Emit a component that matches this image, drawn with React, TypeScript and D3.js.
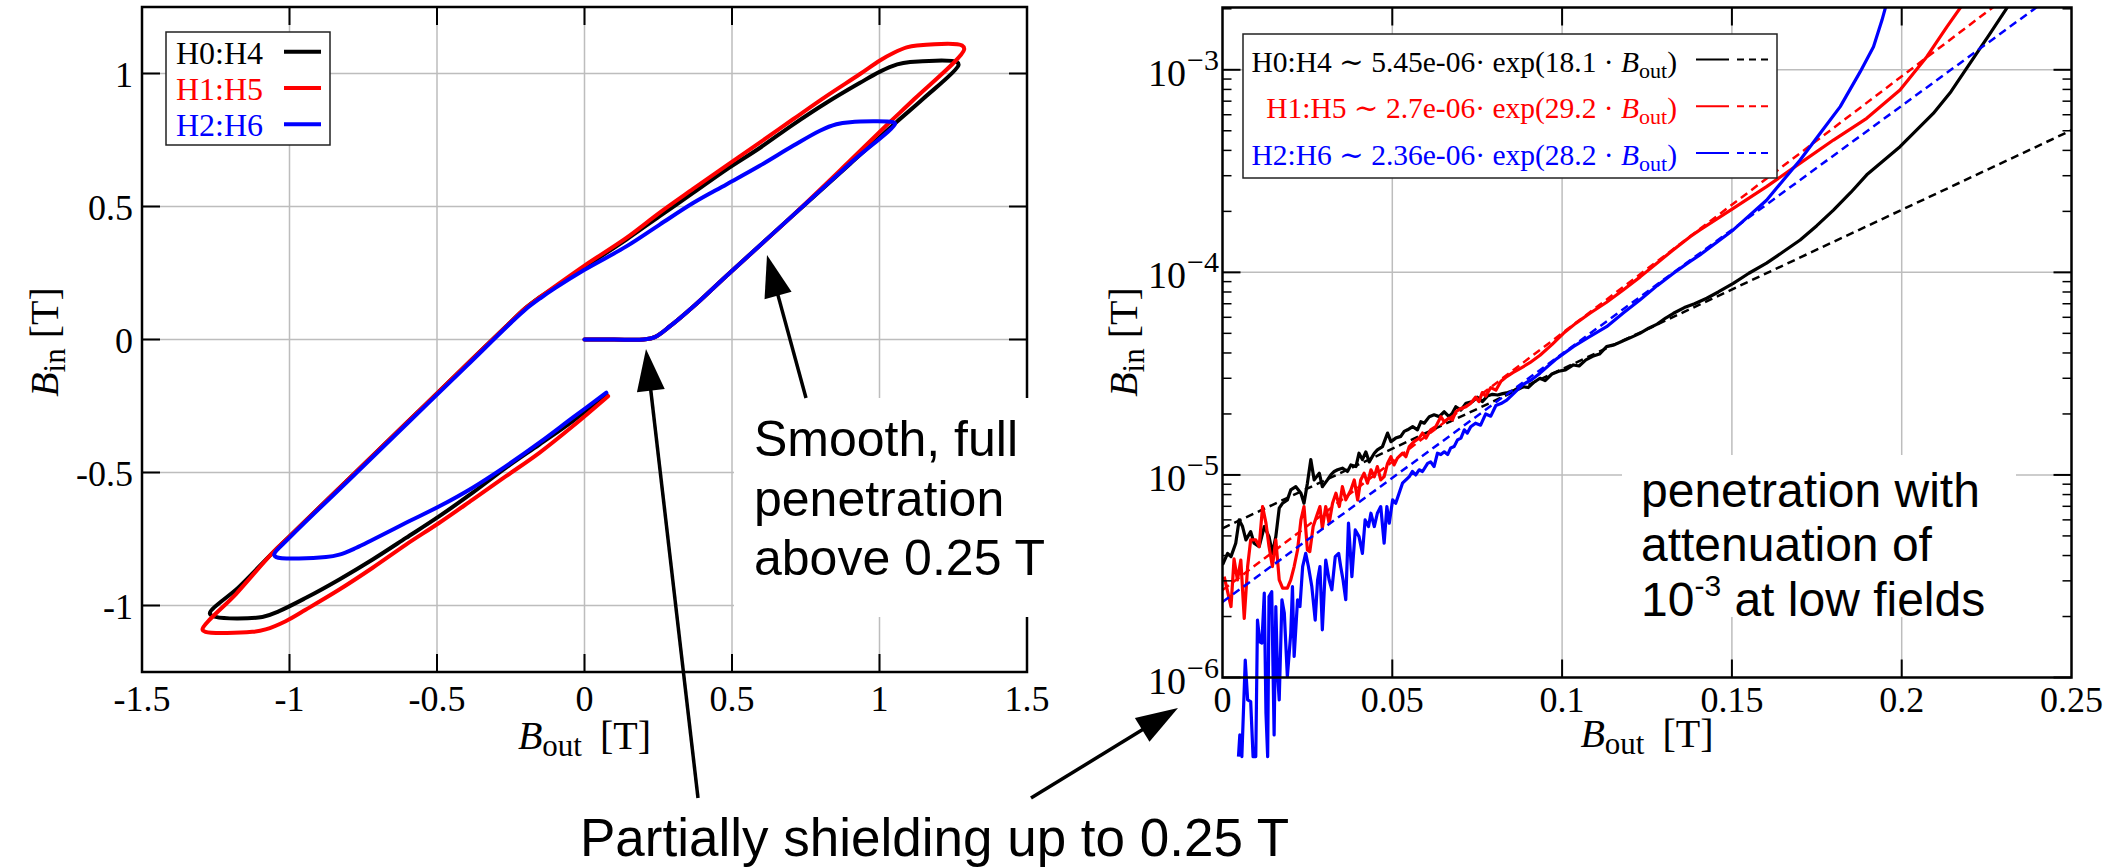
import React from 'react';
import * as d3 from 'd3';

type P = [number, number];

// ---------- series meta ----------
const seriesNames = ['H0:H4', 'H1:H5', 'H2:H6'];
const seriesColors = ['#000000', '#ff0000', '#0000ff'];

// ---------- left panel: hysteresis loops (B_out, B_in) in T ----------
const loopH0H4: P[] = [
  [0, 0], [0.1, 0], [0.2, 0], [0.24, 0.01], [0.29, 0.05], [0.37, 0.125], [0.48, 0.238], [0.7, 0.46],
  [0.9, 0.66], [1.058, 0.818], [1.148, 0.905], [1.268, 1.032],
  [1.262, 1.043], [1.104, 1.043], [1.06, 1.034], [1.0, 1.006], [0.934, 0.965], [0.82, 0.89], [0.707, 0.808],
  [0.594, 0.72], [0.481, 0.639], [0.368, 0.551], [0.255, 0.464], [0.142, 0.376], [0, 0.272], [-0.1, 0.197],
  [-0.15, 0.16], [-0.2, 0.118], [-0.25, 0.066], [-0.4, -0.095], [-0.6, -0.31], [-0.8, -0.525], [-1.0, -0.74],
  [-1.06, -0.805], [-1.171, -0.93], [-1.27, -1.03],
  [-1.25, -1.043], [-1.092, -1.043], [-1.035, -1.021], [-0.944, -0.971], [-0.831, -0.902], [-0.718, -0.827],
  [-0.605, -0.746], [-0.492, -0.664], [-0.379, -0.576], [-0.266, -0.482], [-0.153, -0.395], [-0.04, -0.307],
  [0.075, -0.207],
];
const loopH1H5: P[] = [
  [0, 0], [0.1, 0], [0.2, 0], [0.24, 0.01], [0.29, 0.05], [0.37, 0.125], [0.48, 0.238], [0.7, 0.46],
  [0.9, 0.672], [1.03, 0.812], [1.118, 0.904], [1.287, 1.09],
  [1.28, 1.105], [1.127, 1.105], [1.092, 1.098], [1.047, 1.077], [1.0, 1.048], [0.934, 0.998], [0.82, 0.915],
  [0.707, 0.828], [0.594, 0.74], [0.481, 0.654], [0.368, 0.566], [0.255, 0.477], [0.142, 0.382], [0, 0.278],
  [-0.1, 0.2], [-0.15, 0.16], [-0.2, 0.118], [-0.25, 0.066], [-0.4, -0.095], [-0.6, -0.31], [-0.8, -0.525],
  [-1.0, -0.74], [-1.06, -0.805], [-1.18, -0.955], [-1.295, -1.09],
  [-1.285, -1.099], [-1.126, -1.099], [-1.081, -1.09], [-1.013, -1.059], [-0.944, -1.015], [-0.831, -0.94],
  [-0.718, -0.858], [-0.605, -0.771], [-0.492, -0.689], [-0.379, -0.602], [-0.266, -0.514], [-0.153, -0.426],
  [-0.04, -0.326], [0.08, -0.213],
];
const loopH2H6: P[] = [
  [0, 0], [0.1, 0], [0.2, 0], [0.24, 0.01], [0.29, 0.05], [0.37, 0.125], [0.48, 0.238], [0.7, 0.46],
  [0.9, 0.662], [1.053, 0.812],
  [1.045, 0.817], [0.9, 0.817], [0.854, 0.809], [0.798, 0.785], [0.707, 0.728], [0.594, 0.653], [0.481, 0.583],
  [0.368, 0.513], [0.255, 0.432], [0.142, 0.35], [0, 0.262], [-0.1, 0.193], [-0.15, 0.155], [-0.2, 0.113],
  [-0.25, 0.062], [-0.4, -0.1], [-0.6, -0.315], [-0.8, -0.53], [-1.0, -0.745], [-1.052, -0.808],
  [-1.045, -0.818], [-0.876, -0.818], [-0.831, -0.809], [-0.775, -0.784], [-0.718, -0.753], [-0.605, -0.689],
  [-0.492, -0.627], [-0.379, -0.557], [-0.266, -0.476], [-0.153, -0.388], [-0.04, -0.294], [0.074, -0.2],
];

// ---------- right panel: low-field penetration (B_out, B_in) ----------
const lowH0H4: P[] = [
  [0, 3.6e-6], [0.0015, 4.1e-6], [0.0025, 3.95e-6], [0.0039, 4.6e-6], [0.0049, 6.0e-6], [0.0059, 5.56e-6],
  [0.0069, 4.78e-6], [0.0083, 5.25e-6], [0.0093, 4.6e-6], [0.0108, 4.43e-6], [0.0123, 5.56e-6], [0.0137, 4.96e-6],
  [0.0147, 4.1e-6], [0.0157, 4.96e-6], [0.0167, 6.85e-6], [0.0177, 7.25e-6], [0.0191, 7.53e-6], [0.0201, 8.43e-6],
  [0.0216, 8.75e-6], [0.0231, 8.12e-6], [0.024, 7.25e-6], [0.025, 9.1e-6], [0.026, 1.19e-5], [0.027, 9.45e-6],
  [0.0285, 1.02e-5], [0.0294, 8.75e-6], [0.0309, 9.45e-6], [0.0319, 1.0e-5], [0.0329, 1.04e-5], [0.0339, 1.06e-5],
  [0.0353, 1.08e-5], [0.0368, 1.04e-5], [0.0378, 1.12e-5], [0.0393, 1.1e-5], [0.0402, 1.28e-5], [0.0412, 1.19e-5],
  [0.0422, 1.3e-5], [0.0432, 1.16e-5], [0.0447, 1.28e-5], [0.0456, 1.33e-5], [0.0471, 1.38e-5], [0.0486, 1.61e-5],
  [0.0496, 1.46e-5], [0.051, 1.52e-5], [0.0525, 1.55e-5], [0.0535, 1.64e-5], [0.0545, 1.67e-5], [0.056, 1.73e-5],
  [0.0574, 1.67e-5], [0.0584, 1.83e-5], [0.0594, 1.8e-5], [0.0609, 1.94e-5], [0.0623, 1.98e-5], [0.0638, 1.94e-5],
  [0.0653, 2.05e-5], [0.0667, 1.94e-5], [0.0677, 2.02e-5], [0.0687, 2.17e-5], [0.0702, 2.09e-5], [0.0717, 2.26e-5],
  [0.0736, 2.3e-5], [0.075, 2.42e-5], [0.0765, 2.3e-5], [0.078, 2.45e-5], [0.0795, 2.5e-5], [0.081, 2.48e-5],
  [0.0825, 2.52e-5], [0.084, 2.55e-5], [0.086, 2.62e-5], [0.088, 2.74e-5], [0.09, 2.7e-5], [0.0915, 2.85e-5],
  [0.0935, 3.0e-5], [0.095, 2.92e-5], [0.097, 3.15e-5], [0.099, 3.25e-5], [0.101, 3.3e-5], [0.1033, 3.49e-5],
  [0.105, 3.45e-5], [0.107, 3.7e-5], [0.109, 3.85e-5], [0.111, 3.95e-5], [0.1131, 4.3e-5], [0.1155, 4.4e-5],
  [0.118, 4.6e-5], [0.12, 4.75e-5], [0.1229, 5.0e-5], [0.1255, 5.3e-5], [0.128, 5.55e-5], [0.1305, 5.95e-5],
  [0.1328, 6.28e-5], [0.136, 6.7e-5], [0.139, 7.0e-5], [0.1426, 7.45e-5], [0.146, 8.0e-5], [0.1504, 8.83e-5],
  [0.155, 9.9e-5], [0.1602, 1.11e-4], [0.165, 1.26e-4], [0.1701, 1.445e-4], [0.175, 1.7e-4], [0.1799, 2.03e-4],
  [0.185, 2.48e-4], [0.1897, 3.03e-4], [0.1995, 4.17e-4], [0.2093, 6.09e-4], [0.2145, 7.8e-4], [0.2191, 1.016e-3],
  [0.226, 1.51e-3], [0.2319, 2.13e-3],
];
const lowH1H5: P[] = [
  [0.0005, 3.15e-6], [0.0025, 2.24e-6], [0.0034, 3.85e-6], [0.0044, 3.03e-6], [0.0054, 3.8e-6], [0.0064, 1.96e-6],
  [0.0074, 3.53e-6], [0.0083, 4.78e-6], [0.0098, 4.78e-6], [0.0108, 4.43e-6], [0.0118, 6.98e-6], [0.0128, 5.78e-6],
  [0.0137, 4.43e-6], [0.0147, 3.53e-6], [0.0157, 4.78e-6], [0.0167, 3.03e-6], [0.0177, 2.76e-6], [0.0191, 2.76e-6],
  [0.0201, 3.03e-6], [0.0211, 3.53e-6], [0.0221, 4.26e-6], [0.0231, 6.0e-6], [0.024, 6.98e-6], [0.025, 4.26e-6],
  [0.0257, 4.18e-6], [0.0267, 5.56e-6], [0.028, 6.47e-6], [0.0287, 6.98e-6], [0.0294, 5.45e-6], [0.0304, 6.98e-6],
  [0.0314, 5.78e-6], [0.0324, 7.25e-6], [0.0334, 8.12e-6], [0.0344, 6.98e-6], [0.0353, 8.75e-6], [0.0363, 7.53e-6],
  [0.0378, 8.43e-6], [0.0388, 9.45e-6], [0.0398, 7.53e-6], [0.0407, 9.45e-6], [0.0417, 1.02e-5], [0.0427, 9.1e-6],
  [0.0437, 1.06e-5], [0.0447, 9.8e-6], [0.0456, 1.1e-5], [0.0466, 9.45e-6], [0.0476, 9.8e-6], [0.0486, 1.14e-5],
  [0.0496, 1.23e-5], [0.0505, 1.12e-5], [0.0515, 1.21e-5], [0.053, 1.28e-5], [0.054, 1.23e-5], [0.055, 1.38e-5],
  [0.0564, 1.46e-5], [0.0579, 1.52e-5], [0.0589, 1.61e-5], [0.0599, 1.52e-5], [0.0613, 1.67e-5], [0.0628, 1.73e-5],
  [0.0643, 1.94e-5], [0.0653, 1.83e-5], [0.0667, 1.91e-5], [0.0677, 1.87e-5], [0.0687, 2.05e-5], [0.0702, 2.13e-5],
  [0.0717, 2.17e-5], [0.0731, 2.26e-5], [0.0745, 2.42e-5], [0.0755, 2.3e-5], [0.0765, 2.55e-5], [0.0775, 2.45e-5],
  [0.079, 2.7e-5], [0.0805, 2.62e-5], [0.082, 2.9e-5], [0.0837, 3.06e-5], [0.0855, 3.2e-5], [0.088, 3.38e-5],
  [0.0905, 3.58e-5], [0.0935, 3.9e-5], [0.097, 4.4e-5], [0.1004, 5.0e-5], [0.104, 5.6e-5], [0.1082, 6.28e-5],
  [0.113, 7.1e-5], [0.118, 8.19e-5], [0.123, 9.5e-5], [0.1279, 1.11e-4], [0.1327, 1.29e-4], [0.1377, 1.5e-4],
  [0.1406, 1.62e-4], [0.1504, 2.07e-4], [0.1602, 2.65e-4], [0.1701, 3.46e-4], [0.1799, 4.5e-4], [0.1897, 5.76e-4],
  [0.1995, 7.95e-4], [0.2074, 1.16e-3], [0.2133, 1.63e-3], [0.2182, 2.13e-3],
];
const lowH2H6: P[] = [
  [0.0047, 4.07e-7], [0.0051, 5.21e-7], [0.0057, 4.07e-7], [0.0067, 1.22e-6], [0.0074, 7.75e-7], [0.0083, 7.6e-7],
  [0.009, 4.07e-7], [0.0098, 4.07e-7], [0.0103, 1.92e-6], [0.011, 1.5e-6], [0.0116, 1.48e-6], [0.0123, 2.61e-6],
  [0.0128, 6.67e-7], [0.0133, 4.07e-7], [0.0137, 2.51e-6], [0.0145, 2.65e-6], [0.0152, 5.21e-7], [0.0157, 2.24e-6],
  [0.0162, 1.05e-6], [0.0167, 7.75e-7], [0.0175, 2.42e-6], [0.0182, 2.08e-6], [0.0191, 1.01e-6], [0.0201, 1.65e-6],
  [0.0206, 2.81e-6], [0.0211, 1.27e-6], [0.0221, 2.42e-6], [0.0228, 2.24e-6], [0.0236, 3.53e-6], [0.0245, 4.1e-6],
  [0.0253, 3.53e-6], [0.0263, 2.81e-6], [0.0273, 1.92e-6], [0.028, 3.03e-6], [0.0287, 3.53e-6], [0.0294, 1.72e-6],
  [0.0304, 3.8e-6], [0.0314, 3.03e-6], [0.0322, 2.71e-6], [0.0332, 3.95e-6], [0.0342, 4.1e-6], [0.0348, 3.53e-6],
  [0.0355, 3.03e-6], [0.0363, 2.42e-6], [0.0371, 5.78e-6], [0.0381, 3.15e-6], [0.0391, 5.35e-6], [0.0402, 4.96e-6],
  [0.0412, 4.1e-6], [0.042, 6.0e-6], [0.043, 5.56e-6], [0.0437, 6.47e-6], [0.0447, 5.56e-6], [0.0456, 6.47e-6],
  [0.0466, 6.98e-6], [0.0476, 4.6e-6], [0.0484, 6.98e-6], [0.0491, 5.78e-6], [0.0501, 7.53e-6], [0.051, 7.25e-6],
  [0.052, 8.12e-6], [0.053, 9.1e-6], [0.054, 9.45e-6], [0.055, 9.8e-6], [0.0559, 1.04e-5], [0.0569, 1.0e-5],
  [0.0579, 1.06e-5], [0.0589, 1.04e-5], [0.0604, 1.14e-5], [0.0613, 1.16e-5], [0.0623, 1.1e-5], [0.0633, 1.28e-5],
  [0.0643, 1.26e-5], [0.0653, 1.3e-5], [0.0663, 1.26e-5], [0.0672, 1.36e-5], [0.0682, 1.38e-5], [0.0692, 1.49e-5],
  [0.0702, 1.52e-5], [0.0712, 1.67e-5], [0.0721, 1.61e-5], [0.0731, 1.73e-5], [0.0745, 1.8e-5], [0.076, 1.76e-5],
  [0.0775, 2.0e-5], [0.079, 1.95e-5], [0.0805, 2.2e-5], [0.082, 2.25e-5], [0.0837, 2.34e-5], [0.086, 2.55e-5],
  [0.0885, 2.8e-5], [0.091, 2.95e-5], [0.0935, 3.18e-5], [0.098, 3.7e-5], [0.1033, 4.3e-5], [0.108, 4.8e-5],
  [0.1131, 5.39e-5], [0.118, 6.3e-5], [0.1229, 7.31e-5], [0.128, 8.6e-5], [0.1328, 9.9e-5], [0.1376, 1.13e-4],
  [0.1406, 1.22e-4], [0.1504, 1.62e-4], [0.1602, 2.27e-4], [0.1701, 3.59e-4], [0.176, 4.86e-4], [0.1819, 6.58e-4],
  [0.1878, 9.79e-4], [0.1917, 1.3e-3], [0.1942, 1.76e-3], [0.1957, 2.17e-3],
];

// exponential fits B_in = A * exp(k * B_out)
const fitAmp = [5.45e-6, 2.7e-6, 2.36e-6];
const fitRate = [18.1, 29.2, 28.2];
const fitAmpLabel = ['5.45e-06', '2.7e-06', '2.36e-06'];
const fitRateLabel = ['18.1', '29.2', '28.2'];

// ---------- ticks ----------
const leftXTicks = [-1.5, -1, -0.5, 0, 0.5, 1, 1.5];
const leftXTickLabels = ['-1.5', '-1', '-0.5', '0', '0.5', '1', '1.5'];
const leftYTicks = [-1, -0.5, 0, 0.5, 1];
const leftYTickLabels = ['-1', '-0.5', '0', '0.5', '1'];
const rightXTicks = [0, 0.05, 0.1, 0.15, 0.2, 0.25];
const rightXTickLabels = ['0', '0.05', '0.1', '0.15', '0.2', '0.25'];
const rightYDecades = [-6, -5, -4, -3];

const SERIF = '"Liberation Serif", "DejaVu Serif", serif';
const SANS = '"Liberation Sans", Arial, sans-serif';
const GRID = '#bdbdbd';

function Arrow({ x1, y1, x2, y2 }: { x1: number; y1: number; x2: number; y2: number }) {
  const L = 42, hw = 14;
  const dx = x2 - x1, dy = y2 - y1;
  const len = Math.hypot(dx, dy);
  const ux = dx / len, uy = dy / len;
  const bx = x2 - ux * L, by = y2 - uy * L;
  const pts = [
    [x2, y2],
    [bx - uy * hw, by + ux * hw],
    [bx + uy * hw, by - ux * hw],
  ].map(p => p.join(',')).join(' ');
  return (
    <g>
      <line x1={x1} y1={y1} x2={bx + ux * 4} y2={by + uy * 4} stroke="#000" strokeWidth={3.5} />
      <polygon points={pts} fill="#000" />
    </g>
  );
}

export default function App() {
  const xL = d3.scaleLinear().domain([-1.5, 1.5]).range([142, 1027]);
  const yL = d3.scaleLinear().domain([-1.25, 1.25]).range([672, 7]);
  const xR = d3.scaleLinear().domain([0, 0.25]).range([1222.5, 2071.5]);
  const yR = d3.scaleLog().domain([1e-6, 2.03e-3]).range([677.5, 7.5]);

  const lineL = d3.line<P>().x(d => xL(d[0])).y(d => yL(d[1])).curve(d3.curveCatmullRom.alpha(0.5));
  const lineR = d3.line<P>().x(d => xR(d[0])).y(d => yR(d[1]));

  const loops = [loopH0H4, loopH1H5, loopH2H6];
  const lows = [lowH0H4, lowH1H5, lowH2H6];

  const [lx0, lx1] = xL.range();
  const [ly0, ly1] = [yL.range()[1], yL.range()[0]];
  const [rx0, rx1] = xR.range();
  const [ry0, ry1] = [yR.range()[1], yR.range()[0]];

  const minorR: number[] = [];
  rightYDecades.forEach(k => {
    for (let m = 2; m <= 9; m++) {
      const v = m * Math.pow(10, k);
      if (v < yR.domain()[1]) minorR.push(v);
    }
  });

  const fitLines = fitAmp.map((a, i) => {
    const pts: P[] = [0, 0.25].map(x => [x, a * Math.exp(fitRate[i] * x)] as P);
    return lineR(pts) || '';
  });

  const tickLen = 18;
  const minorLen = 9;

  return (
    <svg width={2111} height={867} style={{ position: 'absolute', left: 0, top: 0, display: 'block' }}
      xmlns="http://www.w3.org/2000/svg">
      <defs>
        <clipPath id="clipL"><rect x={lx0} y={ly0} width={lx1 - lx0} height={ly1 - ly0} /></clipPath>
        <clipPath id="clipR"><rect x={rx0} y={ry0} width={rx1 - rx0} height={760 - ry0} /></clipPath>
      </defs>
      <rect x={0} y={0} width={2111} height={867} fill="#fff" />

      {/* ================= LEFT PANEL ================= */}
      <g>
        {leftXTicks.filter(t => t > -1.5 && t < 1.5).map(t => (
          <line key={'gx' + t} x1={xL(t)} x2={xL(t)} y1={ly0} y2={ly1} stroke={GRID} strokeWidth={1.5} />
        ))}
        {leftYTicks.map(t => (
          <line key={'gy' + t} x1={lx0} x2={lx1} y1={yL(t)} y2={yL(t)} stroke={GRID} strokeWidth={1.5} />
        ))}
        <g clipPath="url(#clipL)">
          {loops.map((d, i) => (
            <path key={'loop' + i} d={lineL(d) || ''} fill="none" stroke={seriesColors[i]} strokeWidth={4}
              strokeLinejoin="round" strokeLinecap="round" />
          ))}
        </g>
        {leftXTicks.filter(t => t > -1.5 && t < 1.5).map(t => (
          <g key={'tx' + t}>
            <line x1={xL(t)} x2={xL(t)} y1={ly1} y2={ly1 - tickLen} stroke="#000" strokeWidth={2} />
            <line x1={xL(t)} x2={xL(t)} y1={ly0} y2={ly0 + tickLen} stroke="#000" strokeWidth={2} />
          </g>
        ))}
        {leftYTicks.map(t => (
          <g key={'ty' + t}>
            <line x1={lx0} x2={lx0 + tickLen} y1={yL(t)} y2={yL(t)} stroke="#000" strokeWidth={2} />
            <line x1={lx1} x2={lx1 - tickLen} y1={yL(t)} y2={yL(t)} stroke="#000" strokeWidth={2} />
          </g>
        ))}
        <rect x={lx0} y={ly0} width={lx1 - lx0} height={ly1 - ly0} fill="none" stroke="#000" strokeWidth={2.5} />
        {leftXTicks.map((t, i) => (
          <text key={'lx' + t} x={xL(t)} y={711} textAnchor="middle" fontFamily={SERIF} fontSize={36}>{leftXTickLabels[i]}</text>
        ))}
        {leftYTicks.map((t, i) => (
          <text key={'ly' + t} x={133} y={yL(t) + 13} textAnchor="end" fontFamily={SERIF} fontSize={36}>{leftYTickLabels[i]}</text>
        ))}
        <text x={xL(0)} y={749} textAnchor="middle" fontFamily={SERIF} fontSize={40}>
          <tspan fontStyle="italic">B</tspan><tspan fontSize={31} dy={7}>out</tspan><tspan dy={-7} dx={18}>[T]</tspan>
        </text>
        <text transform={`translate(58,342) rotate(-90)`} textAnchor="middle" fontFamily={SERIF} fontSize={40}>
          <tspan fontStyle="italic">B</tspan><tspan fontSize={31} dy={7}>in</tspan><tspan dy={-7} dx={10}>[T]</tspan>
        </text>
        <rect x={166} y={32} width={164} height={113} fill="#fff" stroke="#222" strokeWidth={1.5} />
        {seriesNames.map((n, i) => (
          <g key={'lg' + i}>
            <text x={176} y={63.5 + i * 36.3} fontFamily={SERIF} fontSize={32} fill={seriesColors[i]}>{n}</text>
            <line x1={284} x2={321} y1={51.7 + i * 36.3} y2={51.7 + i * 36.3} stroke={seriesColors[i]} strokeWidth={4} />
          </g>
        ))}
      </g>

      {/* ================= RIGHT PANEL ================= */}
      <g>
        {rightXTicks.filter(t => t > 0 && t < 0.25).map(t => (
          <line key={'rgx' + t} x1={xR(t)} x2={xR(t)} y1={ry0} y2={ry1} stroke={GRID} strokeWidth={1.5} />
        ))}
        {rightYDecades.filter(k => k > -6).map(k => (
          <line key={'rgy' + k} x1={rx0} x2={rx1} y1={yR(Math.pow(10, k))} y2={yR(Math.pow(10, k))} stroke={GRID} strokeWidth={1.5} />
        ))}
        <g clipPath="url(#clipR)">
          {lows.map((d, i) => (
            <g key={'low' + i}>
              <path d={lineR(d) || ''} fill="none" stroke={seriesColors[i]} strokeWidth={3.2} strokeLinejoin="round" />
              <path d={fitLines[i]} fill="none" stroke={seriesColors[i]} strokeWidth={2.5} strokeDasharray="8,5" />
            </g>
          ))}
        </g>
        {rightXTicks.filter(t => t > 0 && t < 0.25).map(t => (
          <g key={'rtx' + t}>
            <line x1={xR(t)} x2={xR(t)} y1={ry1} y2={ry1 - tickLen} stroke="#000" strokeWidth={2} />
            <line x1={xR(t)} x2={xR(t)} y1={ry0} y2={ry0 + tickLen} stroke="#000" strokeWidth={2} />
          </g>
        ))}
        {rightYDecades.map(k => (
          <g key={'rty' + k}>
            <line x1={rx0} x2={rx0 + tickLen} y1={yR(Math.pow(10, k))} y2={yR(Math.pow(10, k))} stroke="#000" strokeWidth={2} />
            <line x1={rx1} x2={rx1 - tickLen} y1={yR(Math.pow(10, k))} y2={yR(Math.pow(10, k))} stroke="#000" strokeWidth={2} />
          </g>
        ))}
        {minorR.map(v => (
          <g key={'rmy' + v}>
            <line x1={rx0} x2={rx0 + minorLen} y1={yR(v)} y2={yR(v)} stroke="#000" strokeWidth={1.5} />
            <line x1={rx1} x2={rx1 - minorLen} y1={yR(v)} y2={yR(v)} stroke="#000" strokeWidth={1.5} />
          </g>
        ))}
        <rect x={rx0} y={ry0} width={rx1 - rx0} height={ry1 - ry0} fill="none" stroke="#000" strokeWidth={2.5} />
        {rightXTicks.map((t, i) => (
          <text key={'rxl' + t} x={xR(t)} y={712} textAnchor="middle" fontFamily={SERIF} fontSize={36}>{rightXTickLabels[i]}</text>
        ))}
        {rightYDecades.map(k => (
          <text key={'ryl' + k} x={1219} y={yR(Math.pow(10, k)) + 16} textAnchor="end" fontFamily={SERIF} fontSize={38}>
            10<tspan fontSize={30} dy={-16} dx={1}>{'\u2212' + String(-k)}</tspan>
          </text>
        ))}
        <text x={(rx0 + rx1) / 2} y={747} textAnchor="middle" fontFamily={SERIF} fontSize={40}>
          <tspan fontStyle="italic">B</tspan><tspan fontSize={31} dy={7}>out</tspan><tspan dy={-7} dx={18}>[T]</tspan>
        </text>
        <text transform={`translate(1137,342) rotate(-90)`} textAnchor="middle" fontFamily={SERIF} fontSize={40}>
          <tspan fontStyle="italic">B</tspan><tspan fontSize={31} dy={7}>in</tspan><tspan dy={-7} dx={10}>[T]</tspan>
        </text>
        <rect x={1243} y={34} width={534} height={144} fill="#fff" stroke="#222" strokeWidth={1.5} />
        {seriesNames.map((n, i) => {
          const ly = 59.5 + i * 46.8;
          return (
            <g key={'rlg' + i}>
              <text x={1677} y={ly + 12} textAnchor="end" fontFamily={SERIF} fontSize={29.5} fill={seriesColors[i]}>
                {`${n} \u223C ${fitAmpLabel[i]}\u00B7 exp(${fitRateLabel[i]} \u00B7 `}
                <tspan fontStyle="italic">B</tspan>
                <tspan fontSize={22} dy={6}>out</tspan>
                <tspan dy={-6}>)</tspan>
              </text>
              <line x1={1696} x2={1729} y1={ly} y2={ly} stroke={seriesColors[i]} strokeWidth={2} />
              <line x1={1737} x2={1772} y1={ly} y2={ly} stroke={seriesColors[i]} strokeWidth={2} strokeDasharray="7,5" />
            </g>
          );
        })}
      </g>

      {/* ================= ANNOTATIONS ================= */}
      <rect x={734} y={398} width={318} height={219} fill="#fff" />
      <text fontFamily={SANS} fontSize={50} fill="#000">
        <tspan x={754} y={456}>Smooth, full</tspan>
        <tspan x={754} y={516}>penetration</tspan>
        <tspan x={754} y={575}>above 0.25 T</tspan>
      </text>

      <rect x={1622} y={455} width={394} height={162} fill="#fff" />
      <text fontFamily={SANS} fontSize={48} fill="#000">
        <tspan x={1641} y={507}>penetration with</tspan>
        <tspan x={1641} y={561}>attenuation of</tspan>
        <tspan x={1641} y={616}>10</tspan>
        <tspan fontSize={30} dy={-20}>-3</tspan>
        <tspan dy={20}> at low fields</tspan>
      </text>

      <text x={580} y={856} fontFamily={SANS} fontSize={53} fill="#000">Partially shielding up to 0.25 T</text>

      <Arrow x1={698} y1={798} x2={646} y2={349} />
      <Arrow x1={1031} y1={798} x2={1178} y2={708} />
      <Arrow x1={806} y1={398} x2={767} y2={255} />
    </svg>
  );
}
